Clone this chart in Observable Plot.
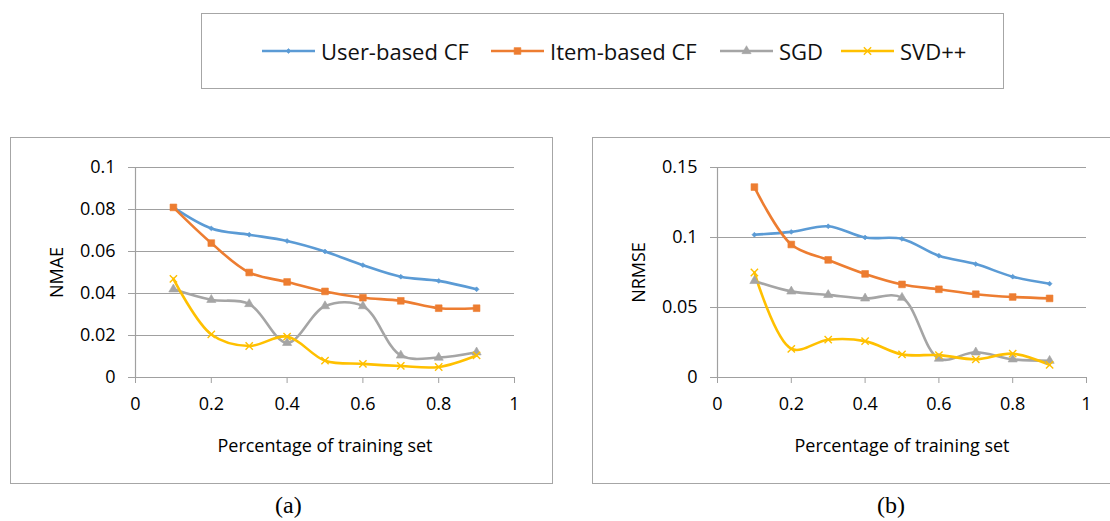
<!DOCTYPE html>
<html>
<head>
<meta charset="utf-8">
<script src="https://cdn.jsdelivr.net/npm/d3@7"></script>
<script src="https://cdn.jsdelivr.net/npm/@observablehq/plot@0.6"></script>
<style>
  html, body { margin: 0; padding: 0; background: #fff; width: 1110px; height: 521px; overflow: hidden; position: relative; font-family: "Open Sans", sans-serif; }
  .box { position: absolute; border: 1px solid #a6a6a6; box-sizing: border-box; background: #fff; }
  .box svg { display: block; }
  .legend-item { position: absolute; top: 0; height: 100%; display: flex; align-items: center; font-size: 22px; color: #111; white-space: nowrap; }
  .cap { position: absolute; font-family: "Liberation Serif", serif; font-size: 24px; color: #000; }
</style>
</head>
<body>
<div id="legend" class="box" style="left:201px; top:13px; width:803px; height:76px;"></div>
<div id="pa" class="box" style="left:10px; top:137px; width:543px; height:347px;"></div>
<div id="pb" class="box" style="left:592px; top:137px; width:530px; height:347px;"></div>
<div class="cap" style="left:275px; top:492px;">(a)</div>
<div class="cap" style="left:877px; top:492px;">(b)</div>
<script>
// ---- data ----
const seriesNames = ["User-based CF", "Item-based CF", "SGD", "SVD++"];
const trainPct = [0.1, 0.2, 0.3, 0.4, 0.5, 0.6, 0.7, 0.8, 0.9];

const nmaeUser = [0.081, 0.071, 0.068, 0.065, 0.060, 0.0535, 0.048, 0.046, 0.042];
const nmaeItem = [0.081, 0.064, 0.050, 0.0455, 0.041, 0.038, 0.0365, 0.033, 0.033];
const nmaeSGD  = [0.042, 0.037, 0.035, 0.0165, 0.034, 0.034, 0.0105, 0.0095, 0.012];
const nmaeSVD  = [0.047, 0.0205, 0.015, 0.0195, 0.008, 0.0065, 0.0055, 0.005, 0.0105];

const nrmseUser = [0.102, 0.104, 0.108, 0.100, 0.099, 0.087, 0.081, 0.072, 0.067];
const nrmseItem = [0.136, 0.095, 0.084, 0.074, 0.0665, 0.063, 0.0595, 0.0575, 0.0565];
const nrmseSGD  = [0.069, 0.0615, 0.059, 0.0565, 0.057, 0.0135, 0.018, 0.013, 0.012];
const nrmseSVD  = [0.075, 0.0205, 0.027, 0.026, 0.0165, 0.016, 0.013, 0.017, 0.009];

const xTicks = [0, 0.2, 0.4, 0.6, 0.8, 1];
const nmaeTicks = [0, 0.02, 0.04, 0.06, 0.08, 0.1];
const nrmseTicks = [0, 0.05, 0.1, 0.15];

const xLabel = "Percentage of training set";

// ---- styles ----
const colors = ["#5B9BD5", "#ED7D31", "#A5A5A5", "#FFC000"];
const symbols = ["diamond2", "square", "triangle", "times"];
const symR = [2.2, 3.8, 3.4, 3.4];
const font = "'Open Sans', sans-serif";

function rows(values) {
  const out = [];
  seriesNames.forEach((s, i) => values[i].forEach((v, j) => out.push({series: s, x: trainPct[j], y: v})));
  return out;
}

function panel(el, values, yTicks, yLabel, w, h, mr) {
  const data = rows(values);
  const marks = [
    Plot.gridY(yTicks, {stroke: "#a0a0a0", strokeOpacity: 1, strokeWidth: 1.2}),
    Plot.ruleX([0], {stroke: "#a0a0a0", strokeWidth: 1.2}),
    Plot.ruleY([0], {stroke: "#a0a0a0", strokeWidth: 1.2}),
    Plot.axisY(yTicks, {tickSize: 7, tickPadding: 13, stroke: "#a0a0a0", fill: "#000", fontSize: 18,
      tickFormat: d => String(d), label: yLabel, labelAnchor: "center", labelArrow: "none", labelOffset: 85}),
    Plot.axisX(xTicks, {tickSize: 6, tickPadding: 14, stroke: "#a0a0a0", fill: "#000", fontSize: 18,
      tickFormat: d => String(d), label: xLabel, labelAnchor: "center", labelArrow: "none", labelOffset: 74})
  ];
  seriesNames.forEach((s, i) => {
    const d = data.filter(r => r.series === s);
    marks.push(Plot.line(d, {x: "x", y: "y", stroke: colors[i], strokeWidth: 2.6, curve: "catmull-rom"}));
  });
  seriesNames.forEach((s, i) => {
    const d = data.filter(r => r.series === s);
    const isStroke = symbols[i] === "times";
    marks.push(Plot.dot(d, {x: "x", y: "y", symbol: () => symbols[i], r: symR[i],
      fill: isStroke ? "none" : colors[i], stroke: colors[i], strokeWidth: isStroke ? 1.4 : 0.6}));
  });
  const chart = Plot.plot({
    width: w, height: h,
    marginLeft: 124, marginRight: mr, marginTop: 29, marginBottom: 106,
    style: {fontFamily: font, fontSize: "18px", color: "#000", background: "#fff"},
    x: {domain: [0, 1]},
    y: {domain: [yTicks[0], yTicks[yTicks.length - 1]]},
    symbol: {type: "identity"},
    marks
  });
  el.appendChild(chart);
}

panel(document.getElementById("pa"), [nmaeUser, nmaeItem, nmaeSGD, nmaeSVD], nmaeTicks, "NMAE", 541, 345, 38);
panel(document.getElementById("pb"), [nrmseUser, nrmseItem, nrmseSGD, nrmseSVD], nrmseTicks, "NRMSE", 528, 345, 35);

// ---- legend ----
const legendEl = document.getElementById("legend");
const legendX = [60, 289, 518, 639];
const symMap = {diamond2: d3.symbolDiamond2, square: d3.symbolSquare, triangle: d3.symbolTriangle, times: d3.symbolTimes};
seriesNames.forEach((s, i) => {
  const item = document.createElement("div");
  item.className = "legend-item";
  item.style.left = legendX[i] + "px";
  const svg = d3.create("svg").attr("width", 53).attr("height", 14).style("margin-right", "6px");
  svg.append("line").attr("x1", 0).attr("x2", 53).attr("y1", 7).attr("y2", 7)
    .attr("stroke", colors[i]).attr("stroke-width", 2.6);
  const area = Math.PI * symR[i] * symR[i];
  const isStroke = symbols[i] === "times";
  svg.append("path").attr("transform", "translate(26.5,7)")
    .attr("d", d3.symbol(symMap[symbols[i]], area)())
    .attr("fill", isStroke ? "none" : colors[i]).attr("stroke", colors[i]).attr("stroke-width", isStroke ? 1.4 : 0.6);
  item.appendChild(svg.node());
  const t = document.createElement("span");
  t.textContent = s;
  item.appendChild(t);
  legendEl.appendChild(item);
});
</script>
</body>
</html>
